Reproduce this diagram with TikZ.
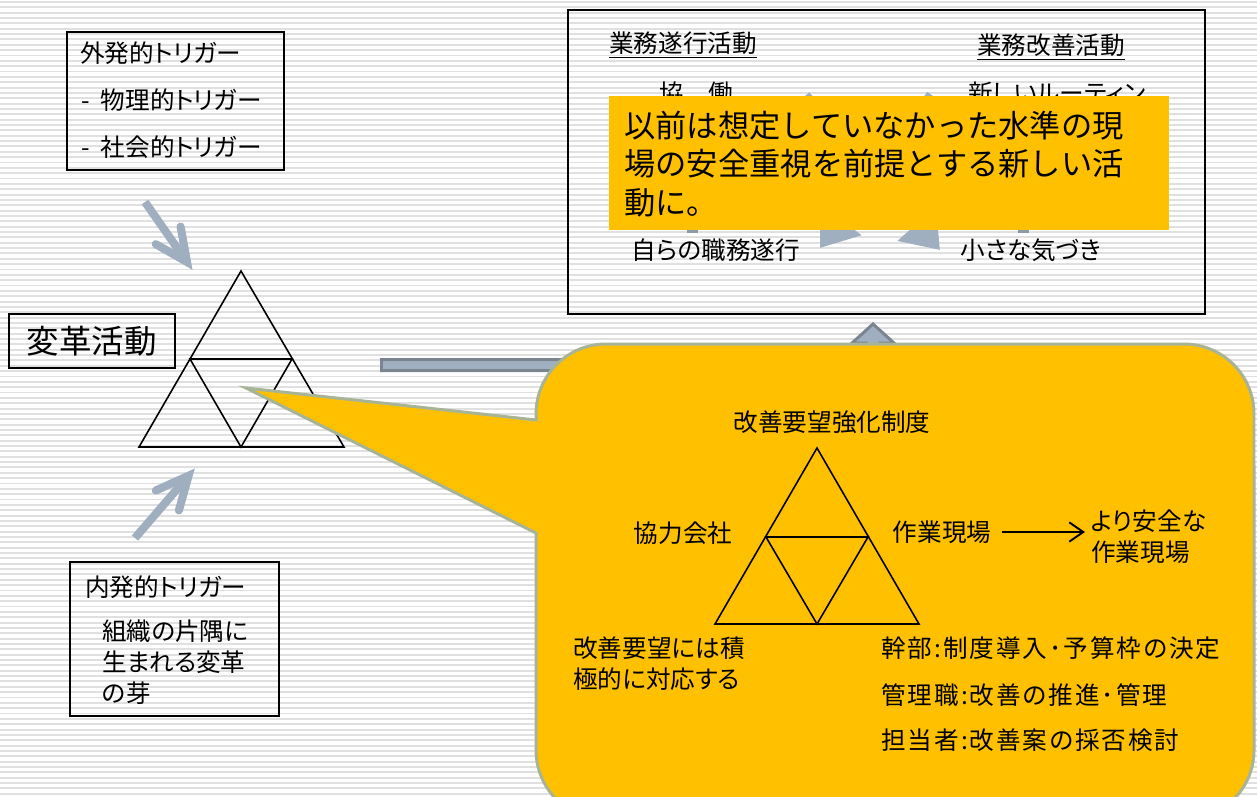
\documentclass[tikz,border=0pt]{standalone}
\usepackage{fontspec}
\setmainfont[RawFeature=+palt]{Noto Sans CJK JP}
\newfontfamily\jpmono{Noto Sans CJK JP}
\usetikzlibrary{arrows.meta,calc}
\definecolor{stripe}{RGB}{224,224,224}
\definecolor{callfill}{RGB}{255,192,0}
\definecolor{callborder}{RGB}{168,180,150}
\definecolor{garrow}{RGB}{160,175,191}
\definecolor{gedge}{RGB}{122,133,145}
\definecolor{gbar}{RGB}{140,155,170}
\tikzset{
  px/.style={x=0.02cm,y=-0.02cm},
  txt/.style={inner sep=0pt, font=\fontsize{14}{17.6}\selectfont},
  frame/.style={draw=black, line width=1.1pt, inner sep=0pt, anchor=north west},
  tri/.style={draw=black, line width=0.9pt, line join=miter},
  chunky/.style={draw=garrow, line width=4.6pt},
  chunkyhead/.style={draw=garrow, line width=4.6pt, line cap=round, line join=miter},
  hidarrow/.style={draw=garrow, line width=8pt, -{Triangle[width=28pt,length=20pt]}},
  conn/.style={draw=black, line width=1.1pt, -{Straight Barb[length=8pt,width=11pt,line width=1.1pt]}},
  widetxt/.style={txt, anchor=west},
  roletxt/.style={widetxt, font=\fontsize{14}{17.6}\selectfont\addfontfeature{LetterSpace=8}},
}
\begin{document}
\begin{tikzpicture}[px]
\useasboundingbox (0,0) rectangle (1257,796);
\clip (0,0) rectangle (1257,796);
\fill[white] (0,0) rectangle (1257,796);
\foreach \i in {0,...,149} \fill[stripe] (0,{\i*5.35+1}) rectangle (1257,{\i*5.35+2.9});

% ---- top right box
\node[frame, minimum width=637*0.02cm, minimum height=304*0.02cm] (work) at (567,9) {};
\node[txt] (exec) at (683,45) {\underline{業務遂行活動}};
\node[txt] (impr) at (1051,47) {\underline{業務改善活動}};
\node[txt] (collab) at (696,93) {協　働};
\node[txt] (routine) at (1057,93) {新しいルーティン};
\node[txt] (duty) at (716,250) {自らの職務遂行};
\node[txt] (notice) at (1031,250) {小さな気づき};
% hidden cycle arrows
\coordinate (h1s) at (804,97);  \coordinate (h1e) at (940,250);
\coordinate (h2s) at (933,96);  \coordinate (h2e) at (820,248);
\draw[hidarrow] (h1s) -- (h1e);
\draw[hidarrow] (h2s) -- (h2e);
\fill[gbar] (687,150) rectangle (698,233);
\fill[gbar] (1018,150) rectangle (1029,233);
% orange note
\node[fill=callfill, anchor=north west, minimum width=560*0.02cm, minimum height=134*0.02cm, inner sep=0pt] (note) at (609,96) {};
\node[anchor=west, inner sep=0pt, align=left, font=\jpmono\fontsize{17.8}{22.1}\selectfont] (notetxt) at (624,164) {以前は想定していなかった水準の現\\場の安全重視を前提とする新しい活\\動に。};

% ---- left boxes
\node[frame, minimum width=217*0.02cm, minimum height=138*0.02cm] (ext) at (66,31) {};
\node[widetxt] (ext0) at (80,53) {外発的トリガー};
\node[widetxt] (ext1) at (81,100) {-\hspace{0.45em}物理的トリガー};
\node[widetxt] (ext2) at (81,147) {-\hspace{0.45em}社会的トリガー};

\node[frame, minimum width=166*0.02cm, minimum height=54*0.02cm, font=\fontsize{18.5}{22}\selectfont] (reform) at (8,313) {変革活動};

\node[frame, minimum width=209*0.02cm, minimum height=154*0.02cm] (int) at (69,561) {};
\node[widetxt] (int0) at (85,587) {内発的トリガー};
\node[widetxt, align=left] (int1) at (102,662.5) {組織の片隅に\\生まれる変革\\の芽};

% ---- left triangle
\coordinate (LA) at (241,271); \coordinate (LB) at (139,447); \coordinate (LC) at (344,447);
\coordinate (LAB) at (190,359); \coordinate (LAC) at (292,359); \coordinate (LBC) at (241,447);
\draw[tri] (LA) -- (LB) -- (LC) -- cycle;
\draw[tri] (LAB) -- (LAC) -- (LBC) -- cycle;

% ---- chunky trigger arrows
\coordinate (ta0) at (145,202); \coordinate (ta1) at (187,262);
\coordinate (ta2) at (155.7,244.1); \coordinate (ta3) at (180.6,226.6);
\draw[chunky] (ta0) -- (ta1);
\draw[chunkyhead] (ta2) -- (ta1) -- (ta3);
\coordinate (ba0) at (135,538); \coordinate (ba1) at (188.6,475.7);
\coordinate (ba2) at (178.9,510.4); \coordinate (ba3) at (155.8,490.5);
\draw[chunky] (ba0) -- (ba1);
\draw[chunkyhead] (ba2) -- (ba1) -- (ba3);

% ---- elbow arrow
\filldraw[fill=garrow, draw=gedge, line width=1.7pt, line join=miter]
  (381.5,359.5) -- (866,359.5) -- (866,343) -- (852,343) -- (873,324) -- (894,343)
  -- (880,343) -- (880,370.5) -- (381.5,370.5) -- cycle;

% ---- callout
\filldraw[fill=callfill, draw=callborder, line width=1.7pt, line join=miter]
  (246,388) -- (536,420) -- (536,414) arc[start angle=180, end angle=90, radius=1.4cm]
  -- (1184,344) arc[start angle=90, end angle=0, radius=1.4cm]
  -- (1254,750) arc[start angle=0, end angle=-90, radius=1.4cm]
  -- (606,820) arc[start angle=-90, end angle=-180, radius=1.4cm]
  -- (536,533) -- cycle;

\coordinate (CA) at (817,448); \coordinate (CB) at (715,624); \coordinate (CC) at (919,624);
\coordinate (CAB) at (766,537); \coordinate (CAC) at (868,537); \coordinate (CBC) at (817,624);
\draw[tri] (CA) -- (CB) -- (CC) -- cycle;
\draw[tri] (CAB) -- (CAC) -- (CBC) -- cycle;

\node[txt] (sys) at (832,422) {改善要望強化制度};
\node[txt] (partner) at (683,533) {協力会社};
\node[txt] (site) at (942,532) {作業現場};
\node[widetxt, align=left] (safe) at (1091,537) {より安全な\\作業現場};
\draw[conn, shorten <=0.2cm, shorten >=0.12cm] (site.east) -- (site.east -| safe.west);
\node[widetxt, align=left] (resp) at (573,663.5) {改善要望には積\\極的に対応する};
\node[roletxt] (role1) at (881,648) {幹部:制度導入･予算枠の決定};
\node[roletxt] (role2) at (881,695) {管理職:改善の推進･管理};
\node[roletxt] (role3) at (881,740) {担当者:改善案の採否検討};
\end{tikzpicture}
\end{document}
